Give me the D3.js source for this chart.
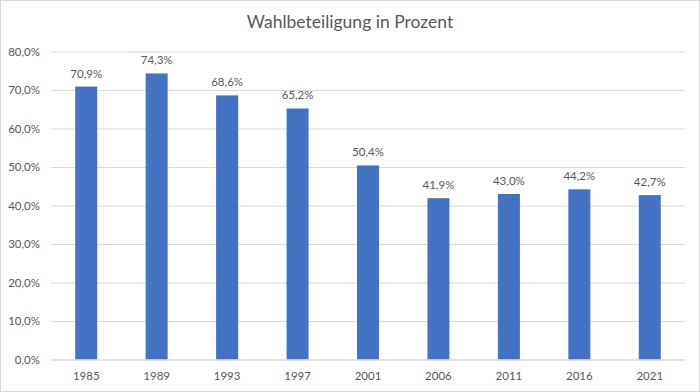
<!DOCTYPE html>
<html><head><meta charset="utf-8">
<script src="https://cdn.jsdelivr.net/npm/d3@7"></script>
<style>
html,body{margin:0;padding:0;background:#fff;}
svg text{font-family:Lato, "Open Sans", sans-serif;fill:#595959;}
</style></head>
<body>
<svg id="c" width="700" height="392"></svg>
<script>
const categories = ["1985","1989","1993","1997","2001","2006","2011","2016","2021"];
const values = [70.9, 74.3, 68.6, 65.2, 50.4, 41.9, 43.0, 44.2, 42.7];
const yTicks = [0,10,20,30,40,50,60,70,80];
const title = "Wahlbeteiligung in Prozent";

(function(){
const svg = d3.select("#c");
const W = 700, H = 392;
const mLeft = 51, mRight = 685, mTop = 51.5, mBottom = 359.5;
const fmt = v => v.toFixed(1).replace(".", ",") + "%";

svg.append("rect").attr("x",0.5).attr("y",0.5).attr("width",W-1).attr("height",H-1)
  .attr("fill","#fff").attr("stroke","#D9D9D9");

const x = d3.scaleBand().domain(categories).range([mLeft, mRight]).paddingInner(0.6875).paddingOuter(0.34375);
const y = d3.scaleLinear().domain([0,80]).range([mBottom, mTop]);

const yAxis = svg.append("g").attr("transform",`translate(${mLeft},0)`)
  .call(d3.axisLeft(y).tickValues(yTicks).tickFormat(fmt).tickSize(-(mRight-mLeft)).tickPadding(11));
yAxis.select(".domain").remove();
yAxis.selectAll("line").attr("stroke","#D9D9D9");
yAxis.selectAll("text").attr("font-size","11.5px").attr("fill","#595959").attr("font-family",null);

svg.append("g").selectAll("rect").data(values).join("rect")
  .attr("x",(d,i)=>x(categories[i]))
  .attr("width",x.bandwidth())
  .attr("y",d=>y(d))
  .attr("height",d=>y(0)-y(d))
  .attr("fill","#4472C4");

svg.append("g").selectAll("text").data(values).join("text")
  .attr("x",(d,i)=>x(categories[i])+x.bandwidth()/2)
  .attr("y",d=>y(d)-9)
  .attr("text-anchor","middle")
  .attr("font-size","11.5px")
  .text(d=>fmt(d));

const xAxis = svg.append("g").attr("transform",`translate(0,${mBottom})`)
  .call(d3.axisBottom(x).tickSize(0).tickPadding(12));
xAxis.select(".domain").attr("stroke","#D9D9D9");
xAxis.selectAll("text").attr("font-size","11.5px").attr("fill","#595959");

svg.append("text").attr("x",350).attr("y",28).attr("text-anchor","middle")
  .attr("font-size","17.5px").text(title);
})();
</script>
</body></html>
